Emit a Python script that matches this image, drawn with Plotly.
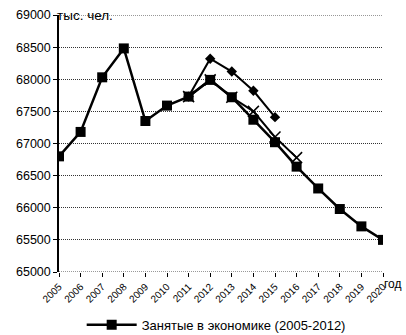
import plotly.graph_objects as go

years_main = list(range(2005, 2021))
employed = [66800, 67180, 68030, 68480, 67350, 67590, 67730, 67990, 67720,
            67370, 67020, 66640, 66300, 65980, 65710, 65500]

years_a = [2011, 2012, 2013, 2014, 2015]
variant_a = [67730, 68320, 68120, 67820, 67410]

years_b = [2011, 2012, 2013, 2014, 2015, 2016]
variant_b = [67730, 67990, 67720, 67500, 67100, 66780]

y_ticks = [65000, 65500, 66000, 66500, 67000, 67500, 68000, 68500, 69000]

FONT = "Liberation Sans, Arial, sans-serif"

fig = go.Figure()
fig.add_trace(go.Scatter(
    x=years_main, y=employed, mode="lines+markers",
    name="Занятые в экономике (2005-2012)",
    line=dict(color="black", width=2.5),
    marker=dict(symbol="square", size=10, color="black"),
    showlegend=True))
fig.add_trace(go.Scatter(
    x=years_a, y=variant_a, mode="lines+markers", name="Вариант 1",
    line=dict(color="black", width=2),
    marker=dict(symbol="diamond", size=8, color="black"),
    showlegend=False))
fig.add_trace(go.Scatter(
    x=years_b, y=variant_b, mode="lines+markers", name="Вариант 2",
    line=dict(color="black", width=2),
    marker=dict(symbol="x-thin", size=11, color="black",
                line=dict(color="black", width=1.5)),
    showlegend=False))

fig.update_layout(
    width=406, height=335,
    margin=dict(l=59, r=23, t=15, b=63, autoexpand=False),
    paper_bgcolor="white", plot_bgcolor="white",
    font=dict(family=FONT, color="black"),
    legend=dict(orientation="h", x=0.07, xanchor="left", y=-0.205,
                yanchor="middle", font=dict(size=13, family=FONT),
                itemwidth=50, bgcolor="rgba(0,0,0,0)"),
    xaxis=dict(range=[2005, 2020], tickmode="array", tickvals=years_main,
               ticktext=[str(y) for y in years_main], tickangle=-45,
               tickfont=dict(size=10, family=FONT, color="black"),
               ticks="outside", ticklen=4,
               tickcolor="black", showgrid=False, showline=False,
               zeroline=False, automargin=False),
    yaxis=dict(range=[65000, 69000], tickmode="array", tickvals=y_ticks,
               ticktext=[str(v) for v in y_ticks],
               tickfont=dict(size=12.5, family=FONT),
               ticks="outside", ticklen=4, tickcolor="black",
               showgrid=True, gridcolor="#333", griddash="1px,1px",
               gridwidth=1, showline=True, linecolor="black", linewidth=1.5,
               zeroline=False, automargin=False),
)

fig.add_shape(type="line", xref="paper", yref="y", x0=0, x1=1,
              y0=65000, y1=65000, line=dict(color="#333", width=1, dash="1px,1px"))
fig.add_shape(type="line", xref="paper", yref="y", x0=0, x1=1,
              y0=69000, y1=69000, line=dict(color="#333", width=1, dash="1px,1px"))

fig.add_annotation(text="тыс. чел.", xref="paper", yref="paper", x=0, y=1,
                   xanchor="left", yanchor="middle", showarrow=False,
                   font=dict(size=13.5, family=FONT), xshift=-4)
fig.add_annotation(text="год", xref="paper", yref="paper", x=1, y=0,
                   xanchor="left", yanchor="middle", showarrow=False,
                   font=dict(size=12, family=FONT), xshift=-1, yshift=-12)

fig.write_html("out.html")
